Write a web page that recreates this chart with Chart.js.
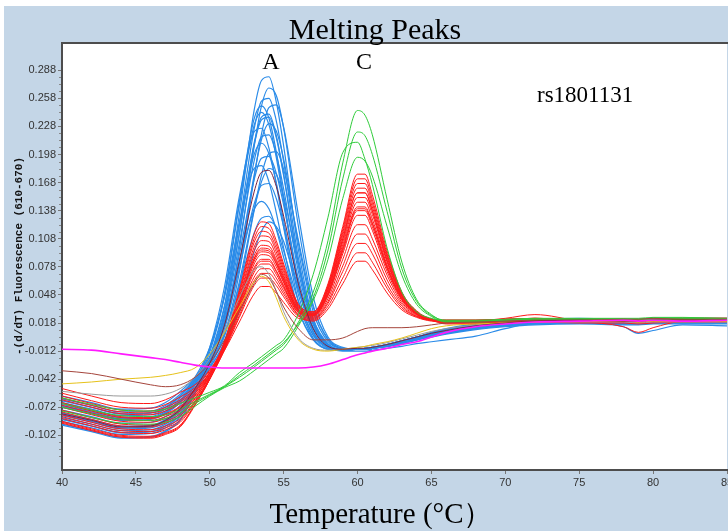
<!DOCTYPE html>
<html lang="en">
<head>
<meta charset="UTF-8" />
<title>Melting Peaks</title>
<script src="https://cdn.jsdelivr.net/npm/chart.js"></script>
<style>
  body { margin: 0; background: #fff; }
  canvas { display: block; }
</style>
</head>
<body>
<canvas id="chart" width="728" height="531"></canvas>
<script>
  // temperature grid shared by every curve (°C)
  const temps = [40, 42, 44, 46, 47, 48, 49, 50, 51, 52, 53, 53.5, 54, 54.5, 55, 56, 57, 58, 59, 60,
                 60.5, 61, 62, 63, 64, 65, 66, 68, 70, 72, 75, 78, 79, 80, 82, 85];
  const xTicks = [40, 45, 50, 55, 60, 65, 70, 75, 80, 85];
  const yTicks = [0.288, 0.258, 0.228, 0.198, 0.168, 0.138, 0.108, 0.078, 0.048, 0.018, -0.012, -0.042, -0.072, -0.102];
  const yMinorStep = 0.0075;

  // AA samples (peak A only)
  const blueCurves = [
    [-0.080,-0.087,-0.094,-0.093,-0.087,-0.075,-0.051,-0.019,0.035,0.134,0.245,0.277,0.281,0.254,0.207,0.096,0.023,-0.005,-0.011,-0.010,-0.009,-0.009,-0.006,-0.002,0.002,0.006,0.011,0.016,0.019,0.021,0.022,0.021,0.021,0.022,0.022,0.022],
    [-0.065,-0.072,-0.079,-0.078,-0.072,-0.060,-0.043,-0.021,0.017,0.097,0.206,0.250,0.269,0.261,0.226,0.121,0.037,0.000,-0.009,-0.010,-0.010,-0.009,-0.006,-0.002,0.002,0.006,0.009,0.014,0.017,0.019,0.020,0.019,0.019,0.020,0.020,0.020],
    [-0.090,-0.097,-0.104,-0.103,-0.097,-0.085,-0.057,-0.023,0.030,0.123,0.225,0.255,0.258,0.234,0.190,0.087,0.020,-0.005,-0.011,-0.010,-0.010,-0.009,-0.006,-0.002,0.003,0.008,0.012,0.017,0.020,0.022,0.023,0.022,0.022,0.023,0.023,0.023],
    [-0.070,-0.077,-0.084,-0.083,-0.077,-0.065,-0.043,-0.010,0.050,0.148,0.236,0.250,0.237,0.201,0.152,0.059,0.008,-0.008,-0.011,-0.010,-0.010,-0.009,-0.006,-0.002,0.002,0.005,0.007,0.012,0.015,0.017,0.018,0.017,0.017,0.018,0.018,0.018],
    [-0.085,-0.092,-0.099,-0.098,-0.092,-0.080,-0.054,-0.022,0.026,0.113,0.208,0.235,0.238,0.216,0.175,0.080,0.018,-0.006,-0.011,-0.010,-0.009,-0.008,-0.005,-0.001,0.003,0.007,0.010,0.015,0.018,0.020,0.021,0.020,0.020,0.021,0.021,0.021],
    [-0.063,-0.070,-0.077,-0.076,-0.070,-0.058,-0.042,-0.021,0.012,0.081,0.176,0.214,0.231,0.223,0.193,0.103,0.030,-0.002,-0.009,-0.010,-0.010,-0.009,-0.006,-0.002,0.002,0.006,0.009,0.014,0.017,0.019,0.020,0.019,0.019,0.020,0.020,0.020],
    [-0.075,-0.082,-0.089,-0.088,-0.082,-0.070,-0.048,-0.020,0.024,0.103,0.191,0.217,0.219,0.198,0.161,0.073,0.016,-0.006,-0.011,-0.010,-0.010,-0.009,-0.007,-0.004,0.000,0.003,0.006,0.011,0.014,0.016,0.017,0.016,0.016,0.017,0.017,0.017],
    [-0.087,-0.094,-0.101,-0.100,-0.094,-0.082,-0.054,-0.018,0.037,0.123,0.198,0.210,0.199,0.168,0.127,0.048,0.005,-0.009,-0.011,-0.010,-0.009,-0.008,-0.005,-0.001,0.003,0.007,0.011,0.016,0.019,0.021,0.022,0.021,0.021,0.022,0.022,0.022],
    [-0.067,-0.074,-0.081,-0.080,-0.074,-0.062,-0.044,-0.019,0.020,0.091,0.171,0.194,0.196,0.178,0.144,0.065,0.013,-0.007,-0.011,-0.010,-0.010,-0.009,-0.006,-0.002,0.002,0.006,0.009,0.014,0.017,0.019,0.020,0.019,0.019,0.020,0.020,0.020],
    [-0.081,-0.088,-0.095,-0.094,-0.088,-0.076,-0.053,-0.028,0.004,0.062,0.139,0.169,0.183,0.177,0.153,0.080,0.022,-0.004,-0.010,-0.010,-0.010,-0.009,-0.007,-0.003,0.001,0.005,0.008,0.013,0.016,0.018,0.019,0.018,0.018,0.019,0.019,0.019],
    [-0.060,-0.067,-0.074,-0.073,-0.067,-0.055,-0.040,-0.019,0.015,0.076,0.145,0.165,0.167,0.151,0.121,0.054,0.009,-0.008,-0.011,-0.010,-0.009,-0.008,-0.005,-0.001,0.003,0.007,0.011,0.016,0.019,0.021,0.022,0.021,0.021,0.022,0.022,0.022],
    [-0.091,-0.098,-0.105,-0.104,-0.098,-0.086,-0.057,-0.024,0.020,0.084,0.139,0.148,0.140,0.118,0.088,0.032,0.001,-0.010,-0.011,-0.010,-0.010,-0.009,-0.007,-0.004,0.000,0.004,0.007,0.012,0.015,0.017,0.018,0.017,0.017,0.018,0.018,0.018],
    [-0.072,-0.079,-0.086,-0.085,-0.079,-0.067,-0.047,-0.024,0.007,0.058,0.114,0.130,0.132,0.119,0.095,0.041,0.005,-0.008,-0.011,-0.010,-0.010,-0.009,-0.006,-0.002,0.002,0.006,0.009,0.014,0.017,0.019,0.020,0.019,0.019,0.020,0.020,0.020],
    [-0.083,-0.090,-0.097,-0.096,-0.090,-0.078,-0.054,-0.030,-0.004,0.039,0.094,0.116,0.126,0.121,0.105,0.053,0.012,-0.006,-0.010,-0.010,-0.009,-0.008,-0.005,-0.001,0.003,0.007,0.010,0.015,0.018,0.020,0.021,0.020,0.020,0.021,0.021,0.021],
    [-0.078,-0.085,-0.092,-0.091,-0.085,-0.073,-0.048,-0.013,0.047,0.144,0.229,0.243,0.230,0.195,0.148,0.057,0.008,-0.008,-0.012,-0.012,-0.012,-0.011,-0.009,-0.007,-0.004,-0.002,0.000,0.004,0.012,0.018,0.019,0.014,0.007,0.010,0.016,0.015],
    [-0.079,-0.086,-0.093,-0.092,-0.086,-0.074,-0.047,-0.008,0.057,0.153,0.222,0.226,0.205,0.166,0.120,0.041,0.002,-0.010,-0.011,-0.010,-0.010,-0.009,-0.006,-0.002,0.002,0.006,0.009,0.014,0.017,0.019,0.020,0.019,0.019,0.020,0.020,0.020],
    [-0.069,-0.076,-0.083,-0.082,-0.076,-0.064,-0.046,-0.025,0.006,0.072,0.173,0.220,0.248,0.251,0.227,0.133,0.046,0.003,-0.008,-0.010,-0.009,-0.008,-0.005,-0.001,0.003,0.007,0.010,0.015,0.018,0.020,0.021,0.020,0.020,0.021,0.021,0.021],
    [-0.085,-0.092,-0.099,-0.098,-0.092,-0.080,-0.055,-0.030,-0.001,0.056,0.138,0.176,0.199,0.201,0.182,0.106,0.035,0.001,-0.009,-0.010,-0.010,-0.009,-0.006,-0.002,0.002,0.006,0.009,0.014,0.017,0.019,0.020,0.019,0.019,0.020,0.020,0.020],
    [-0.065,-0.072,-0.079,-0.078,-0.072,-0.060,-0.040,-0.008,0.046,0.125,0.183,0.186,0.169,0.136,0.098,0.032,0.000,-0.010,-0.011,-0.010,-0.010,-0.009,-0.007,-0.004,0.000,0.004,0.007,0.012,0.015,0.017,0.018,0.017,0.017,0.018,0.018,0.018],
    [-0.071,-0.078,-0.085,-0.084,-0.078,-0.066,-0.046,-0.018,0.028,0.114,0.210,0.238,0.241,0.218,0.177,0.081,0.018,-0.006,-0.011,-0.010,-0.010,-0.009,-0.006,-0.002,0.002,0.006,0.009,0.014,0.017,0.019,0.020,0.019,0.019,0.020,0.020,0.020]
  ];

  // AC samples (both peaks)
  const redCurves = [
    [-0.082,-0.090,-0.097,-0.098,-0.094,-0.086,-0.066,-0.040,-0.002,0.053,0.113,0.126,0.124,0.106,0.081,0.038,0.030,0.060,0.121,0.177,0.177,0.155,0.095,0.051,0.031,0.022,0.020,0.020,0.021,0.022,0.021,0.021,0.020,0.021,0.022,0.022],
    [-0.064,-0.072,-0.079,-0.080,-0.076,-0.068,-0.055,-0.035,-0.003,0.046,0.099,0.111,0.110,0.094,0.072,0.035,0.028,0.056,0.112,0.162,0.162,0.142,0.088,0.048,0.030,0.022,0.019,0.019,0.020,0.021,0.020,0.020,0.019,0.020,0.021,0.021],
    [-0.089,-0.097,-0.104,-0.105,-0.101,-0.093,-0.070,-0.042,-0.007,0.041,0.090,0.101,0.100,0.086,0.067,0.033,0.027,0.053,0.105,0.152,0.152,0.134,0.083,0.046,0.029,0.022,0.018,0.018,0.019,0.020,0.019,0.019,0.018,0.019,0.020,0.020],
    [-0.057,-0.065,-0.072,-0.073,-0.069,-0.061,-0.051,-0.033,-0.005,0.039,0.086,0.096,0.095,0.082,0.064,0.032,0.027,0.051,0.102,0.147,0.147,0.129,0.080,0.045,0.028,0.022,0.021,0.021,0.022,0.023,0.022,0.022,0.021,0.022,0.023,0.023],
    [-0.077,-0.085,-0.092,-0.093,-0.089,-0.081,-0.063,-0.039,-0.007,0.036,0.081,0.091,0.090,0.078,0.061,0.031,0.026,0.049,0.097,0.140,0.140,0.124,0.077,0.044,0.028,0.022,0.019,0.019,0.020,0.021,0.020,0.020,0.019,0.020,0.021,0.021],
    [-0.072,-0.080,-0.087,-0.088,-0.084,-0.076,-0.060,-0.038,-0.008,0.034,0.077,0.086,0.086,0.074,0.058,0.030,0.025,0.047,0.092,0.133,0.133,0.117,0.073,0.042,0.027,0.021,0.020,0.020,0.021,0.022,0.021,0.021,0.020,0.021,0.022,0.022],
    [-0.087,-0.095,-0.102,-0.103,-0.099,-0.091,-0.069,-0.042,-0.010,0.031,0.072,0.081,0.081,0.070,0.055,0.029,0.024,0.044,0.086,0.123,0.123,0.108,0.069,0.040,0.027,0.021,0.017,0.017,0.018,0.019,0.018,0.018,0.017,0.018,0.019,0.019],
    [-0.062,-0.070,-0.077,-0.078,-0.074,-0.066,-0.054,-0.035,-0.008,0.029,0.067,0.076,0.076,0.066,0.052,0.027,0.023,0.041,0.079,0.113,0.113,0.100,0.064,0.038,0.026,0.021,0.019,0.019,0.020,0.021,0.020,0.020,0.019,0.020,0.021,0.021],
    [-0.080,-0.088,-0.095,-0.096,-0.092,-0.084,-0.065,-0.041,-0.011,0.024,0.058,0.066,0.066,0.058,0.046,0.025,0.022,0.039,0.073,0.103,0.103,0.092,0.059,0.036,0.025,0.021,0.021,0.021,0.022,0.023,0.022,0.022,0.021,0.022,0.023,0.023],
    [-0.070,-0.078,-0.085,-0.086,-0.082,-0.074,-0.059,-0.037,-0.004,0.044,0.095,0.106,0.105,0.090,0.069,0.034,0.029,0.057,0.115,0.167,0.167,0.146,0.090,0.049,0.030,0.022,0.018,0.018,0.019,0.020,0.019,0.019,0.018,0.019,0.020,0.020],
    [-0.084,-0.092,-0.099,-0.100,-0.096,-0.088,-0.067,-0.041,-0.008,0.038,0.084,0.094,0.093,0.081,0.062,0.031,0.026,0.048,0.095,0.138,0.138,0.121,0.076,0.043,0.028,0.022,0.020,0.020,0.021,0.022,0.021,0.021,0.020,0.021,0.022,0.022],
    [-0.067,-0.075,-0.082,-0.083,-0.079,-0.071,-0.057,-0.037,-0.009,0.026,0.063,0.071,0.071,0.062,0.049,0.026,0.020,0.033,0.060,0.084,0.084,0.075,0.050,0.032,0.024,0.020,0.019,0.019,0.020,0.021,0.020,0.020,0.019,0.020,0.021,0.021],
    [-0.075,-0.083,-0.090,-0.091,-0.087,-0.079,-0.062,-0.038,-0.003,0.049,0.104,0.116,0.114,0.098,0.075,0.036,0.028,0.054,0.108,0.157,0.157,0.138,0.085,0.047,0.029,0.022,0.021,0.021,0.022,0.023,0.022,0.022,0.021,0.022,0.023,0.023],
    [-0.060,-0.068,-0.075,-0.076,-0.072,-0.064,-0.053,-0.035,-0.011,0.019,0.049,0.057,0.057,0.050,0.040,0.023,0.021,0.036,0.066,0.093,0.093,0.083,0.055,0.034,0.025,0.021,0.019,0.020,0.023,0.027,0.020,0.014,0.008,0.013,0.020,0.021],
    [-0.068,-0.076,-0.083,-0.084,-0.080,-0.072,-0.057,-0.035,-0.002,0.051,0.108,0.121,0.119,0.102,0.078,0.037,0.030,0.058,0.118,0.172,0.172,0.150,0.092,0.050,0.030,0.022,0.019,0.019,0.020,0.021,0.020,0.020,0.019,0.020,0.021,0.021],
    [-0.088,-0.096,-0.103,-0.104,-0.100,-0.092,-0.069,-0.042,-0.007,0.040,0.087,0.098,0.097,0.084,0.065,0.032,0.027,0.054,0.108,0.157,0.157,0.138,0.085,0.047,0.029,0.022,0.020,0.020,0.021,0.022,0.021,0.021,0.020,0.021,0.022,0.022],
    [-0.052,-0.060,-0.067,-0.068,-0.064,-0.056,-0.048,-0.032,-0.006,0.033,0.075,0.084,0.084,0.073,0.057,0.029,0.026,0.050,0.099,0.142,0.142,0.125,0.078,0.044,0.028,0.022,0.019,0.019,0.020,0.021,0.020,0.020,0.019,0.020,0.021,0.021]
  ];

  // CC samples (peak C only)
  const greenCurves = [
    [-0.068,-0.075,-0.081,-0.082,-0.080,-0.074,-0.066,-0.058,-0.050,-0.040,-0.029,-0.023,-0.017,-0.011,-0.005,0.019,0.051,0.106,0.189,0.245,0.240,0.219,0.150,0.083,0.043,0.027,0.020,0.020,0.021,0.022,0.022,0.022,0.022,0.023,0.023,0.022],
    [-0.076,-0.083,-0.089,-0.090,-0.088,-0.082,-0.071,-0.060,-0.051,-0.044,-0.033,-0.027,-0.021,-0.015,-0.009,0.015,0.045,0.096,0.172,0.222,0.218,0.198,0.137,0.076,0.041,0.026,0.021,0.021,0.022,0.023,0.023,0.023,0.023,0.024,0.024,0.023],
    [-0.062,-0.069,-0.075,-0.076,-0.074,-0.068,-0.062,-0.056,-0.049,-0.035,-0.024,-0.018,-0.012,-0.006,0.000,0.028,0.070,0.131,0.200,0.211,0.193,0.166,0.098,0.051,0.030,0.023,0.020,0.020,0.021,0.022,0.022,0.022,0.022,0.023,0.023,0.022],
    [-0.072,-0.079,-0.085,-0.086,-0.084,-0.078,-0.068,-0.059,-0.050,-0.038,-0.027,-0.021,-0.015,-0.009,-0.003,0.017,0.042,0.086,0.151,0.195,0.191,0.175,0.121,0.069,0.038,0.025,0.019,0.019,0.020,0.021,0.021,0.021,0.021,0.022,0.022,0.021]
  ];

  const magentaCurve = [-0.010,-0.011,-0.015,-0.019,-0.021,-0.024,-0.027,-0.029,-0.030,-0.030,-0.030,-0.030,-0.030,-0.030,-0.030,-0.030,-0.029,-0.026,-0.021,-0.016,-0.014,-0.012,-0.009,-0.005,-0.002,0.003,0.008,0.014,0.017,0.019,0.020,0.021,0.020,0.021,0.020,0.021];
  const yellowCurve = [-0.047,-0.045,-0.042,-0.040,-0.038,-0.035,-0.030,-0.015,0.008,0.035,0.062,0.068,0.062,0.045,0.025,0.000,-0.010,-0.012,-0.010,-0.008,-0.007,-0.005,-0.002,0.002,0.007,0.012,0.015,0.017,0.018,0.019,0.020,0.020,0.019,0.020,0.020,0.020];
  const grayCurve = [-0.055,-0.058,-0.060,-0.060,-0.058,-0.052,-0.040,-0.020,0.010,0.045,0.075,0.078,0.070,0.052,0.030,0.002,-0.009,-0.011,-0.010,-0.008,-0.007,-0.006,-0.003,0.001,0.005,0.009,0.012,0.016,0.018,0.019,0.019,0.019,0.018,0.019,0.019,0.019];
  const brownCurve = [-0.033,-0.036,-0.042,-0.048,-0.050,-0.048,-0.040,-0.025,0.000,0.030,0.060,0.070,0.066,0.052,0.035,0.012,0.000,0.000,0.002,0.009,0.012,0.013,0.013,0.013,0.014,0.016,0.018,0.019,0.020,0.021,0.021,0.022,0.022,0.023,0.022,0.022];
  const maroonCurve = [-0.079,-0.086,-0.093,-0.092,-0.086,-0.074,-0.052,-0.025,0.016,0.084,0.158,0.179,0.181,0.164,0.132,0.060,0.012,-0.007,-0.010,-0.009,-0.009,-0.008,-0.005,-0.001,0.003,0.007,0.010,0.015,0.018,0.020,0.021,0.020,0.020,0.021,0.021,0.021];

  const datasets = [];

  function toPoints(vals) {
    return vals.map((v, i) => ({ x: temps[i], y: v }));
  }

  function addCurves(list, color, width, order) {
    list.forEach(vals => {
      datasets.push({
        data: toPoints(vals),
        borderColor: color,
        borderWidth: width,
        pointRadius: 0,
        fill: false,
        cubicInterpolationMode: 'monotone',
        order: order
      });
    });
  }

  addCurves(blueCurves, '#2a8be8', 1.2, 7);
  addCurves(redCurves, '#ff1a1a', 1, 6);
  addCurves(greenCurves, '#2fcc3a', 1, 5);
  addCurves([grayCurve], '#9a9a9a', 1, 4);
  addCurves([yellowCurve], '#e6c21a', 1, 3);
  addCurves([brownCurve], '#a5453c', 1, 2);
  addCurves([maroonCurve], '#7c2340', 1, 1);
  addCurves([magentaCurve], '#ff1aff', 1.6, 0);

  // panel background, white plot area, top border, minor ticks and all the free text
  const decor = {
    id: 'decor',
    beforeDraw(chart) {
      const { ctx, chartArea, width, height } = chart;
      ctx.save();
      ctx.fillStyle = '#ffffff';
      ctx.fillRect(0, 0, width, height);
      ctx.fillStyle = '#c4d6e7';
      ctx.fillRect(4, 6, width - 4, height - 6);
      ctx.fillStyle = '#ffffff';
      ctx.fillRect(chartArea.left, chartArea.top, chartArea.right - chartArea.left, chartArea.bottom - chartArea.top);
      ctx.restore();
    },
    afterDraw(chart) {
      const { ctx, chartArea, width } = chart;
      const yScale = chart.scales.y;
      ctx.save();
      ctx.strokeStyle = '#4d4d4d';
      ctx.lineWidth = 2;
      ctx.beginPath();
      ctx.moveTo(chartArea.left - 1, chartArea.top - 1);
      ctx.lineTo(width, chartArea.top - 1);
      ctx.stroke();

      // minor y ticks
      ctx.strokeStyle = '#888';
      ctx.lineWidth = 1;
      ctx.beginPath();
      yTicks.forEach(v => {
        for (let k = 1; k <= 3; k++) {
          const val = v - k * yMinorStep;
          if (val < yScale.min) continue;
          const py = Math.round(yScale.getPixelForValue(val)) + 0.5;
          ctx.moveTo(chartArea.left - 3, py);
          ctx.lineTo(chartArea.left - 1, py);
        }
      });
      ctx.stroke();

      ctx.fillStyle = '#000';
      ctx.textAlign = 'center';
      ctx.textBaseline = 'alphabetic';
      ctx.font = '30px "Liberation Serif", "Times New Roman", serif';
      ctx.fillText('Melting Peaks', 375, 39);
      ctx.font = '24px "Liberation Serif", "Times New Roman", serif';
      ctx.fillText('A', 271, 69);
      ctx.fillText('C', 364, 69);
      ctx.textAlign = 'left';
      ctx.font = '23px "Liberation Serif", "Times New Roman", serif';
      ctx.fillText('rs1801131', 537, 102);
      ctx.textAlign = 'center';
      ctx.font = '29px "Liberation Serif", "Times New Roman", serif';
      ctx.fillText('Temperature (°C）', 381, 523);

      ctx.translate(19, 256);
      ctx.rotate(-Math.PI / 2);
      ctx.font = 'bold 11px "Liberation Mono", "Courier New", monospace';
      ctx.textBaseline = 'middle';
      ctx.fillStyle = '#111';
      ctx.fillText('-(d/dT) Fluorescence (610-670)', 0, 0);
      ctx.restore();
    }
  };

  new Chart(document.getElementById('chart'), {
    type: 'line',
    data: { datasets },
    options: {
      responsive: false,
      animation: false,
      devicePixelRatio: 1,
      layout: { padding: { top: 44, right: 1, left: 0, bottom: 0 } },
      plugins: {
        legend: { display: false },
        tooltip: { enabled: false },
        title: { display: false }
      },
      scales: {
        x: {
          type: 'linear',
          min: 40,
          max: 85,
          afterBuildTicks: scale => { scale.ticks = xTicks.map(v => ({ value: v })); },
          afterFit: scale => {
            scale.height = 61;
            scale.paddingRight = 0;
            scale.paddingLeft = 0;
          },
          grid: { drawOnChartArea: false, drawTicks: true, tickLength: 4, color: '#777' },
          border: { color: '#4d4d4d', width: 2 },
          ticks: {
            color: '#333',
            padding: 2,
            maxRotation: 0,
            font: { family: '"Liberation Sans", Arial, sans-serif', size: 11 }
          }
        },
        y: {
          type: 'linear',
          min: -0.139,
          max: 0.316,
          afterBuildTicks: scale => { scale.ticks = yTicks.map(v => ({ value: v })); },
          afterFit: scale => { scale.width = 62; },
          grid: { drawOnChartArea: false, drawTicks: true, tickLength: 4, color: '#777' },
          border: { color: '#4d4d4d', width: 2 },
          ticks: {
            color: '#333',
            padding: 2,
            callback: v => v.toFixed(3),
            font: { family: '"Liberation Sans", Arial, sans-serif', size: 11 }
          }
        }
      }
    },
    plugins: [decor]
  });
</script>
</body>
</html>
